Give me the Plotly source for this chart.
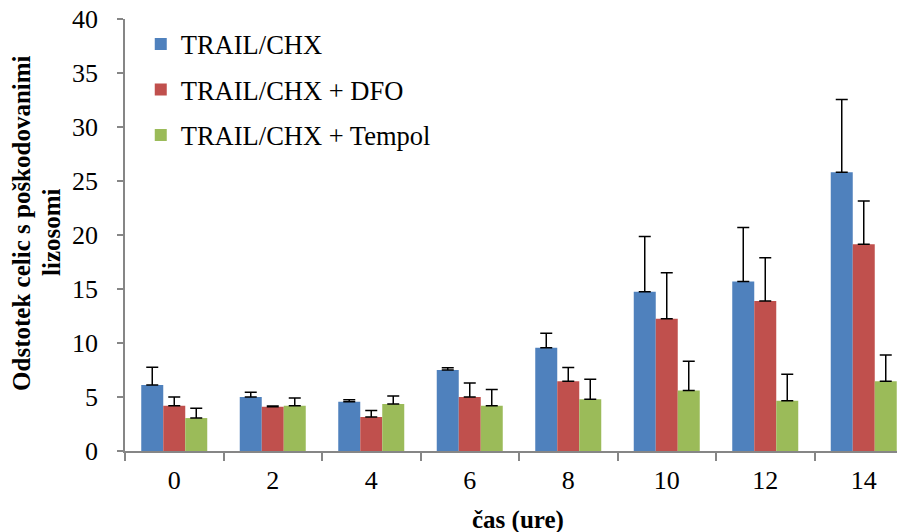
import plotly.graph_objects as go

categories = ["0", "2", "4", "6", "8", "10", "12", "14"]
series_names = ["TRAIL/CHX", "TRAIL/CHX + DFO", "TRAIL/CHX + Tempol"]
trail_chx = [6.1, 5.0, 4.55, 7.5, 9.55, 14.75, 15.7, 25.8]
trail_chx_err = [1.65, 0.45, 0.2, 0.2, 1.35, 5.1, 5.0, 6.75]
trail_dfo = [4.2, 4.1, 3.15, 5.0, 6.45, 12.25, 13.9, 19.15]
trail_dfo_err = [0.8, 0.07, 0.6, 1.3, 1.27, 4.25, 4.0, 4.0]
trail_tempol = [3.05, 4.2, 4.35, 4.2, 4.8, 5.6, 4.65, 6.45]
trail_tempol_err = [0.9, 0.7, 0.75, 1.5, 1.85, 2.7, 2.45, 2.45]
colors = ["#4F81BD", "#C0504D", "#9BBB59"]
y_ticks = [0, 5, 10, 15, 20, 25, 30, 35, 40]
y_title_lines = ["Odstotek celic s poškodovanimi", "lizosomi"]
x_title = "čas (ure)"

FONT = "Liberation Serif, Times New Roman, serif"

fig = go.Figure()
for i, (name, vals, errs) in enumerate(zip(series_names,
                                            [trail_chx, trail_dfo, trail_tempol],
                                            [trail_chx_err, trail_dfo_err, trail_tempol_err])):
    fig.add_trace(go.Bar(
        x=categories, y=vals, name=name, legendgroup=f"g{i}",
        marker=dict(color=colors[i], line=dict(width=0)),
        error_y=dict(type="data", array=errs, arrayminus=[0] * len(errs),
                     symmetric=False, color="#000000", thickness=1.5, width=6),
    ))

fig.update_layout(
    width=905, height=532,
    margin=dict(l=117, r=0, t=11, b=89),
    paper_bgcolor="white", plot_bgcolor="white",
    barmode="group", bargap=0.33, bargroupgap=0,
    font=dict(family=FONT, size=26, color="#000000"),
    showlegend=True,
    legend=dict(x=0.02, y=0.997, xanchor="left", yanchor="top",
                bgcolor="rgba(0,0,0,0)", tracegroupgap=8,
                font=dict(family=FONT, size=26.5, color="#000000"),
                itemwidth=30),
    xaxis=dict(type="category", range=[-0.5, 7.5], showline=True,
               linecolor="#868686", linewidth=1.5, ticks="outside",
               tickson="boundaries", ticklen=8, tickcolor="#868686",
               tickwidth=1.5, showgrid=False, zeroline=False,
               ticklabelstandoff=5, ticklabeloverflow="allow",
               automargin=False,
               tickfont=dict(family=FONT, size=26, color="#000000")),
    yaxis=dict(range=[0, 40], tickvals=y_ticks, showline=True,
               linecolor="#868686", linewidth=1.5, ticks="outside",
               ticklen=6, tickcolor="#868686", tickwidth=1.5,
               showgrid=False, zeroline=False, ticklabelstandoff=14,
               ticklabeloverflow="allow", automargin=False,
               tickfont=dict(family=FONT, size=26, color="#000000")),
    annotations=[
        dict(text=f"<b>{y_title_lines[0]}</b>",
             xref="paper", yref="paper", x=-0.1307, y=0.528,
             xanchor="center", yanchor="middle", textangle=-90,
             showarrow=False, font=dict(family=FONT, size=25, color="#000000")),
        dict(text=f"<b>{y_title_lines[1]}</b>",
             xref="paper", yref="paper", x=-0.0926, y=0.507,
             xanchor="center", yanchor="middle", textangle=-90,
             showarrow=False, font=dict(family=FONT, size=25, color="#000000")),
        dict(text=f"<b>{x_title}</b>", xref="paper", yref="paper",
             x=0.499, y=-0.16, xanchor="center", yanchor="middle",
             showarrow=False, font=dict(family=FONT, size=25, color="#000000")),
    ],
)

fig.write_html("out.html")
